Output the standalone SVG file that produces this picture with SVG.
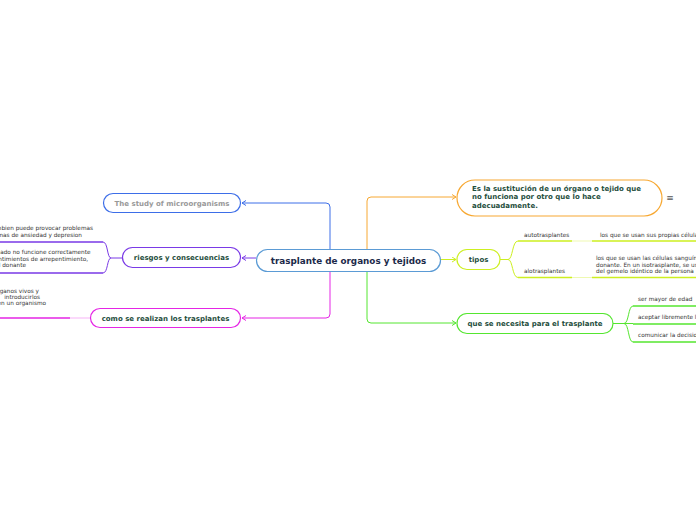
<svg xmlns="http://www.w3.org/2000/svg" width="696" height="520" viewBox="0 0 696 520">
<style>
.n{fill:#fff;stroke-width:1.2}
.t{font-family:"DejaVu Sans",Verdana,sans-serif;font-weight:bold;fill:#1f4e3d;font-size:7px}
.s{font-family:"DejaVu Sans",Verdana,sans-serif;fill:#333;font-size:5.75px}
.c{fill:none;stroke-width:1}
.u{fill:none;stroke-width:1.5}
.f{fill:none;stroke-width:1;opacity:.35}
</style>
<defs>
<marker id="mb" markerWidth="6" markerHeight="6" refX="5" refY="3" orient="auto" markerUnits="userSpaceOnUse"><path d="M1,0.5 L5,3 L1,5.5" fill="none" stroke="#3d6ee8" stroke-width="1"/></marker>
<marker id="mp" markerWidth="6" markerHeight="6" refX="5" refY="3" orient="auto" markerUnits="userSpaceOnUse"><path d="M1,0.5 L5,3 L1,5.5" fill="none" stroke="#7a3ae6" stroke-width="1"/></marker>
<marker id="mm" markerWidth="6" markerHeight="6" refX="5" refY="3" orient="auto" markerUnits="userSpaceOnUse"><path d="M1,0.5 L5,3 L1,5.5" fill="none" stroke="#e525e5" stroke-width="1"/></marker>
<marker id="mo" markerWidth="6" markerHeight="6" refX="5" refY="3" orient="auto" markerUnits="userSpaceOnUse"><path d="M1,0.5 L5,3 L1,5.5" fill="none" stroke="#f7a832" stroke-width="1"/></marker>
<marker id="my" markerWidth="6" markerHeight="6" refX="5" refY="3" orient="auto" markerUnits="userSpaceOnUse"><path d="M1,0.5 L5,3 L1,5.5" fill="none" stroke="#cdef20" stroke-width="1"/></marker>
<marker id="mg" markerWidth="6" markerHeight="6" refX="5" refY="3" orient="auto" markerUnits="userSpaceOnUse"><path d="M1,0.5 L5,3 L1,5.5" fill="none" stroke="#55e630" stroke-width="1"/></marker>
</defs>
<g id="connectors">
<path class="c" stroke="#3d6ee8" d="M330,249 V207 Q330,203 326,203 H242" marker-end="url(#mb)"/>
<path class="c" stroke="#7a3ae6" d="M256,258 H242" marker-end="url(#mp)"/>
<path class="c" stroke="#e525e5" d="M330,271 V314 Q330,318 326,318 H242" marker-end="url(#mm)"/>
<path class="c" stroke="#f7a832" d="M367,249 V201 Q367,197 371,197 H456" marker-end="url(#mo)"/>
<path class="c" stroke="#cdef20" d="M440,259.5 H456" marker-end="url(#my)"/>
<path class="c" stroke="#55e630" d="M367,271 V319 Q367,323 371,323 H456" marker-end="url(#mg)"/>
<path class="c" stroke="#7a3ae6" d="M122,258 H111 C107,258 108,242 103,242 M111,258 C107,258 108,273 103,273"/>
<path class="u" stroke="#7a3ae6" d="M103,242 H0 M103,273 H0"/>
<path class="f" stroke="#e525e5" d="M90,318 H70"/>
<path class="u" stroke="#e525e5" d="M70,318 H0"/>
<path class="c" stroke="#cdef20" d="M500,259.5 H508 C513,259.5 512,241 518,241 M508,259.5 C513,259.5 512,277.5 518,277.5"/>
<path class="u" stroke="#cdef20" d="M518,241 H572 M518,277.5 H572 M592,241 H696 M592,277.5 H696"/>
<path class="f" stroke="#cdef20" d="M572,241 H592 M572,277.5 H592"/>
<path class="c" stroke="#55e630" d="M613,323.5 H624 C629,323.5 628,306 633,306 M624,323.5 H633 M624,323.5 C629,323.5 628,342 633,342"/>
<path class="u" stroke="#55e630" d="M633,306 H696 M633,324 H696 M633,342 H696"/>
</g>
<g id="center">
<rect class="n" x="256.5" y="249.5" width="184" height="22" rx="11" stroke="#5b9bd5"/>
<text x="348.5" y="263.5" text-anchor="middle" style="font-family:'DejaVu Sans',Verdana,sans-serif;font-weight:bold;font-size:8.8px;fill:#1c2a4a">trasplante de organos y tejidos</text>
</g>
<g id="study">
<rect class="n" x="103.5" y="193.5" width="137" height="19" rx="9.5" stroke="#3d6ee8"/>
<text class="t" x="172" y="205.5" text-anchor="middle" style="fill:#999">The study of microorganisms</text>
</g>
<g id="riesgos">
<rect class="n" x="122.5" y="247.5" width="118" height="20" rx="10" stroke="#7a3ae6"/>
<text class="t" x="181.5" y="260" text-anchor="middle">riesgos y consecuencias</text>
<text class="s" x="93" y="230" text-anchor="end">tambien puede provocar problemas</text>
<text class="s" x="82" y="237.3" text-anchor="end">problemas de ansiedad y depresion</text>
<text class="s" x="90.5" y="254" text-anchor="end">tomado no funcione  correctamente</text>
<text class="s" x="88" y="261" text-anchor="end">sentimientos de arrepentimiento,</text>
<text class="s" x="26" y="267.3" text-anchor="end">al donante</text>
</g>
<g id="como">
<rect class="n" x="90.5" y="308.5" width="150" height="19" rx="9.5" stroke="#e525e5"/>
<text class="t" x="165.5" y="320.5" text-anchor="middle">como se realizan los trasplantes</text>
<text class="s" x="39" y="293.3" text-anchor="end">organos vivos y</text>
<text class="s" x="40" y="299.2" text-anchor="end">introducirlos</text>
<text class="s" x="46" y="305" text-anchor="end">en un organismo</text>
</g>
<g id="definicion">
<rect class="n" x="457" y="180" width="205" height="36" rx="18" stroke="#f7a832"/>
<text class="t" x="472" y="191">Es la sustitución de un órgano o tejido que</text>
<text class="t" x="472" y="199.3">no funciona por otro que lo hace</text>
<text class="t" x="472" y="207.6">adecuadamente.</text>
<text x="670" y="200.5" text-anchor="middle" style="font-family:'DejaVu Sans',sans-serif;font-size:9px;fill:#555">≡</text>
</g>
<g id="tipos">
<rect class="n" x="457" y="249.5" width="43" height="20" rx="10" stroke="#cdef20"/>
<text class="t" x="478.5" y="262" text-anchor="middle">tipos</text>
<text class="s" x="524" y="237">autotrasplantes</text>
<text class="s" x="600" y="237">los que se usan sus propias células</text>
<text class="s" x="524" y="273">alotrasplantes</text>
<text class="s" x="596" y="259.5">los que se usan las células sanguíneas</text>
<text class="s" x="596" y="266.5">donante. En un isotrasplante, se usan</text>
<text class="s" x="596" y="273.3">del gemelo idéntico de la persona</text>
</g>
<g id="necesita">
<rect class="n" x="457" y="313.5" width="156" height="20" rx="10" stroke="#55e630"/>
<text class="t" x="535" y="326" text-anchor="middle">que se necesita para el trasplante</text>
<text class="s" x="638" y="300.5">ser mayor de edad</text>
<text class="s" x="638" y="318.5">aceptar libremente la decision</text>
<text class="s" x="638" y="337">comunicar la decision</text>
</g>
</svg>
